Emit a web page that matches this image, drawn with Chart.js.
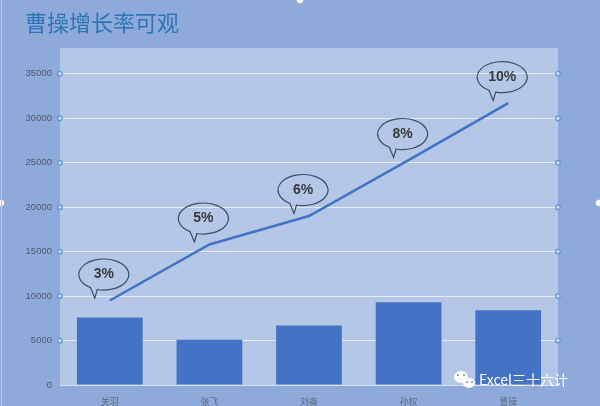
<!DOCTYPE html>
<html>
<head>
<meta charset="utf-8">
<script src="https://cdn.jsdelivr.net/npm/chart.js@4"></script>
<style>
  html, body { margin: 0; padding: 0; background: #8eaadb; }
  #wrap { width: 600px; height: 406px; }
</style>
</head>
<body>
<div id="wrap"><canvas id="chart" width="600" height="406"></canvas></div>
<script>
// dados
const categorias = ['关羽', '张飞', '刘备', '孙权', '曹操'];
const valoresBarra = [7600, 5100, 6700, 9300, 8400];
const valoresLinha = [9500, 15800, 19000, 25300, 31700];
const rotulosTaxa = ['3%', '5%', '6%', '8%', '10%'];
const ticksY = [0, 5000, 10000, 15000, 20000, 25000, 30000, 35000];
const tituloGrafico = '曹操增长率可观';
const marcaDagua = 'Excel三十六计';

const azul = '#4472c4';

// fundo do gráfico e da área de plotagem
const fundoPlugin = {
  id: 'fundo',
  beforeDraw(chart) {
    const { ctx, chartArea } = chart;
    ctx.save();
    ctx.fillStyle = '#8eaadb';
    ctx.fillRect(0, 0, chart.width, chart.height);
    ctx.fillStyle = '#b4c7e7';
    ctx.fillRect(chartArea.left, chartArea.top, chartArea.right - chartArea.left, chartArea.bottom - chartArea.top);
    ctx.restore();
  },
  afterDraw(chart) {
    const { ctx, chartArea } = chart;
    const y = chart.scales.y;
    ctx.save();
    // título
    ctx.fillStyle = '#2e75b6';
    ctx.font = '22px "Noto Sans CJK SC"';
    ctx.textBaseline = 'middle';
    ctx.fillText(tituloGrafico, 25, 23);

    // pequenos marcadores de seleção nas linhas de grade
    ctx.lineWidth = 1.2;
    y.ticks.forEach(t => {
      if (t.value === 0) return;
      const py = y.getPixelForValue(t.value);
      [chartArea.left, chartArea.right].forEach(px => {
        ctx.beginPath();
        ctx.arc(px, py, 2.3, 0, Math.PI * 2);
        ctx.fillStyle = '#c9d8f0';
        ctx.fill();
        ctx.strokeStyle = '#5b9bd5';
        ctx.stroke();
      });
    });

    // alças brancas da moldura
    [[1, chart.height / 2], [chart.width / 2, 0], [chart.width - 1, chart.height / 2]].forEach(([hx, hy]) => {
      ctx.beginPath();
      ctx.arc(hx, hy, 3.5, 0, Math.PI * 2);
      ctx.fillStyle = '#ffffff';
      ctx.fill();
      ctx.strokeStyle = '#b0b0b0';
      ctx.lineWidth = 0.8;
      ctx.stroke();
    });
    ctx.strokeStyle = '#c8c8c8';
    ctx.lineWidth = 1;
    ctx.beginPath();
    ctx.moveTo(1.5, 0);
    ctx.lineTo(1.5, chart.height);
    ctx.stroke();

    // marca d'água
    ctx.fillStyle = 'rgba(255,255,255,0.95)';
    ctx.beginPath();
    ctx.ellipse(461, 377, 7, 6, 0, 0, Math.PI * 2);
    ctx.fill();
    ctx.beginPath();
    ctx.ellipse(469, 383, 6, 5, 0, 0, Math.PI * 2);
    ctx.fill();
    ctx.fillStyle = '#8a8a8a';
    [[458, 375], [464, 375], [467, 382], [472, 382]].forEach(([ex, ey]) => {
      ctx.beginPath();
      ctx.arc(ex, ey, 1, 0, Math.PI * 2);
      ctx.fill();
    });
    ctx.fillStyle = '#ffffff';
    ctx.font = '14px "Noto Sans CJK SC"';
    ctx.textBaseline = 'middle';
    ctx.fillText(marcaDagua, 479, 380);
    ctx.restore();
  }
};

// balões com as taxas de crescimento
const balaoPlugin = {
  id: 'balao',
  afterDatasetsDraw(chart) {
    const { ctx } = chart;
    const meta = chart.getDatasetMeta(1);
    ctx.save();
    meta.data.forEach((pt, i) => {
      const cx = pt.x - 6, cy = pt.y - 26;
      const rx = 25, ry = 15.5;
      const a1 = 105 * Math.PI / 180, a2 = 122 * Math.PI / 180;
      ctx.beginPath();
      ctx.ellipse(cx, cy, rx, ry, 0, a2, a1 + Math.PI * 2);
      ctx.lineTo(cx - 9, cy + ry + 8);
      ctx.closePath();
      ctx.strokeStyle = '#3d4f68';
      ctx.lineWidth = 1.2;
      ctx.stroke();
      ctx.fillStyle = '#3a3a3a';
      ctx.font = 'bold 14px "Liberation Sans"';
      ctx.textAlign = 'center';
      ctx.textBaseline = 'middle';
      ctx.fillText(rotulosTaxa[i], cx, cy);
    });
    ctx.restore();
  }
};

const ctx = document.getElementById('chart').getContext('2d');
new Chart(ctx, {
  data: {
    labels: categorias,
    datasets: [
      {
        type: 'bar',
        data: valoresBarra,
        backgroundColor: azul,
        categoryPercentage: 1,
        barPercentage: 0.66,
        order: 2
      },
      {
        type: 'line',
        data: valoresLinha,
        borderColor: azul,
        borderWidth: 2.5,
        pointRadius: 0,
        tension: 0,
        order: 1
      }
    ]
  },
  options: {
    responsive: false,
    animation: false,
    devicePixelRatio: 1,
    layout: { padding: { left: 0, right: 42, top: 48, bottom: 0 } },
    plugins: {
      legend: { display: false },
      tooltip: { enabled: false }
    },
    scales: {
      x: {
        grid: { display: false },
        border: { display: true, color: '#d6e0f2' },
        ticks: { color: '#5f6b80', font: { size: 9, family: '"Noto Sans CJK SC"' }, padding: 3 },
        afterFit(scale) { scale.height = 21; }
      },
      y: {
        min: 0,
        max: 37900,
        afterBuildTicks(scale) {
          scale.ticks = ticksY.map(v => ({ value: v }));
        },
        grid: { color: 'rgba(232,238,250,0.9)', lineWidth: 1, drawTicks: false },
        border: { display: false },
        ticks: {
          color: '#4f5a6e',
          font: { size: 9.5, family: '"Liberation Sans"' },
          padding: 8,
          callback: v => String(v)
        },
        afterFit(scale) { scale.width = 60; }
      }
    }
  },
  plugins: [fundoPlugin, balaoPlugin]
});
</script>
</body>
</html>
